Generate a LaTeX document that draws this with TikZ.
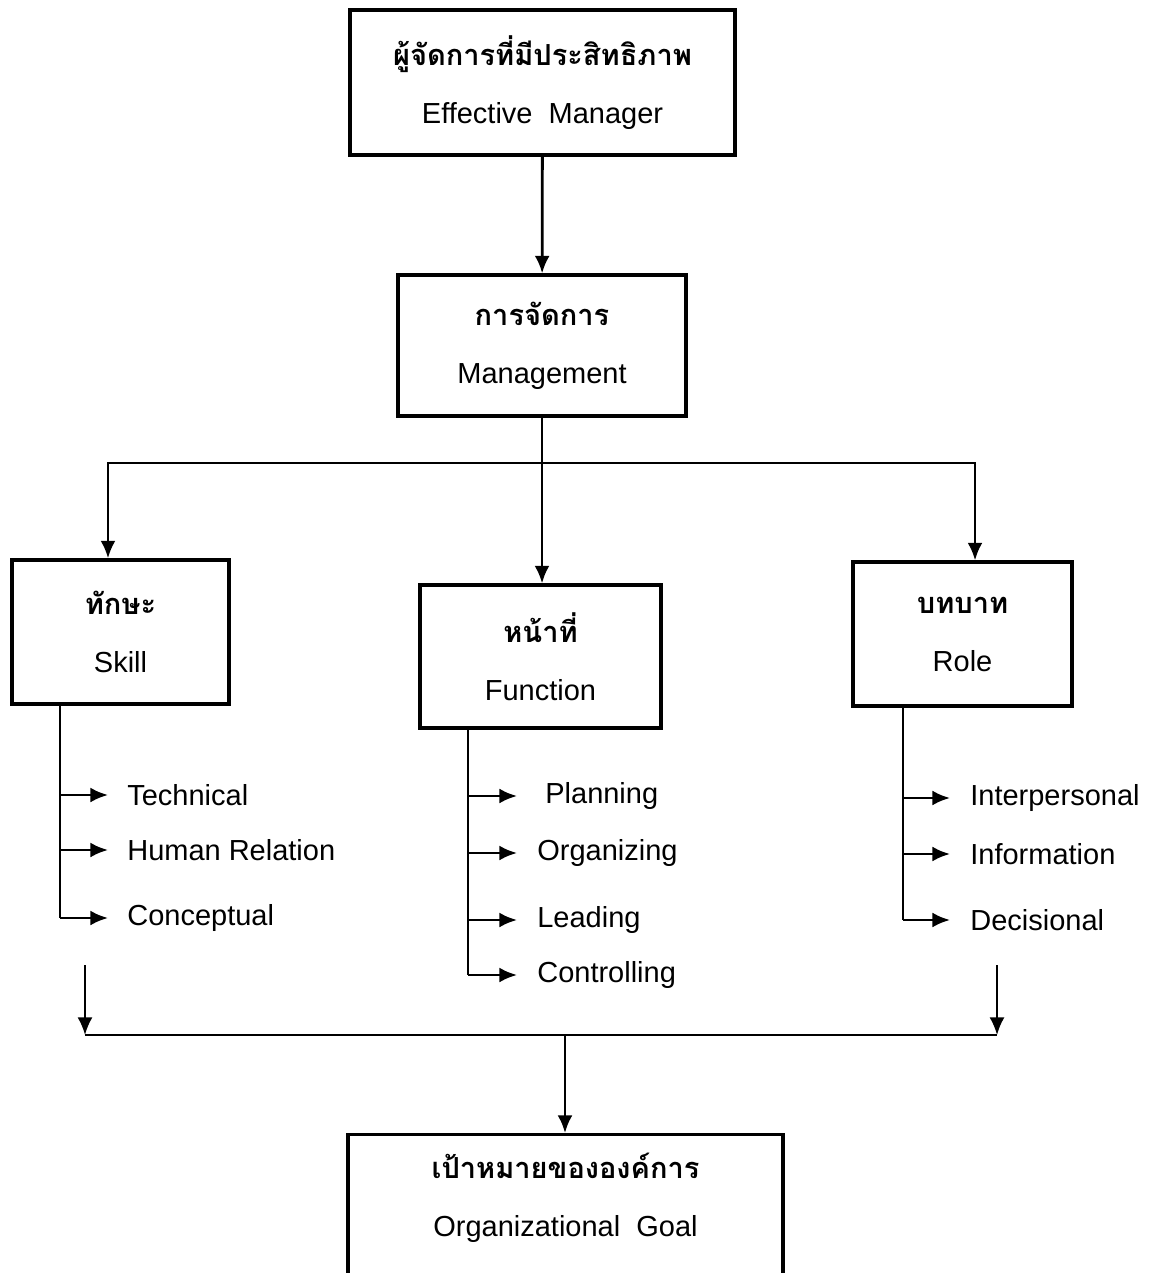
\documentclass[tikz,border=0pt]{standalone}
\usepackage{fontspec}
\setmainfont{Liberation Sans}
\newfontfamily\thaifont[Script=Thai]{Loma}
\usetikzlibrary{arrows.meta}

\tikzset{
  box/.style={draw, line width=1.8pt, align=center, inner sep=0pt,
    font=\fontsize{16.5}{33}\selectfont},
  item/.style={anchor=west, inner sep=0pt, font=\fontsize{16.5}{20}\selectfont},
  link/.style={line width=1.6pt},
  arr/.style={line width=1.6pt, -{Latex[length=10pt,width=8.5pt]}}
}
\newcommand{\thtxt}[1]{{\thaifont\bfseries #1}}

\begin{document}
\begin{tikzpicture}[x=0.02cm, y=-0.02cm]
\useasboundingbox (0,0) rectangle (1152,1273);

\node[box, minimum width=7.7cm, minimum height=2.9cm] (mgr) at (542.5,82.5)
  {\thtxt{ผู้จัดการที่มีประสิทธิภาพ}\\ Effective~ Manager};
\node[box, minimum width=5.76cm, minimum height=2.82cm] (mgmt) at (542,345.5)
  {\thtxt{การจัดการ}\\ Management};
\node[box, minimum width=4.34cm, minimum height=2.88cm] (skill) at (120.5,632)
  {\thtxt{ทักษะ}\\ Skill};
\node[box, minimum width=4.82cm, minimum height=2.86cm] (func) at (540.5,656.5)
  {\thtxt{หน้าที่}\\ Function};
\node[box, minimum width=4.38cm, minimum height=2.88cm] (role) at (962.5,634)
  {\thtxt{บทบาท}\\ Role};
\node[box, anchor=north, minimum width=8.7cm, inner ysep=0.36cm] (goal) at (565.5,1133)
  {\thtxt{เป้าหมายขององค์การ}\\ Organizational~ Goal\rule[-60pt]{0pt}{0pt}};

\draw[arr] (mgr) -- (mgmt);
\coordinate (hub) at (542,463);
\draw[link] (mgmt.south) -- (hub);
\draw[arr] (hub) -- (hub |- func.north);
\draw[arr] (hub) -| ([xshift=-0.25cm]skill.north);
\draw[arr] (hub) -| ([xshift=0.25cm]role.north);

% skill
\node[item] (tech) at (127,795) {Technical};
\node[item] (human) at (127,850) {Human Relation};
\node[item] (concept) at (127,918) {Conceptual};
\coordinate (st) at ([xshift=-1.21cm]skill.south);
\draw[link] (st) -- (st |- concept);
\foreach \n in {tech,human,concept}
  \draw[arr, shorten >=0.38cm] (st |- \n) -- (\n.west);

% function
\node[item] (plan) at (545,796) {Planning};
\node[item] (org) at (537,853) {Organizing};
\node[item] (lead) at (537,920) {Leading};
\node[item] (ctrl) at (537,975) {Controlling};
\coordinate (ft) at ([xshift=-1.45cm]func.south);
\draw[link] (ft) -- (ft |- ctrl);
\draw[arr, shorten >=0.56cm] (ft |- plan) -- (plan.west);
\foreach \n in {org,lead,ctrl}
  \draw[arr, shorten >=0.4cm] (ft |- \n) -- (\n.west);

% role
\node[item] (inter) at (970,798) {Interpersonal};
\node[item] (info) at (970,854) {Information};
\node[item] (deci) at (970,920) {Decisional};
\coordinate (rt) at ([xshift=-1.19cm]role.south);
\draw[link] (rt) -- (rt |- deci);
\foreach \n in {inter,info,deci}
  \draw[arr, shorten >=0.4cm] (rt |- \n) -- (\n.west);

% to goal
\coordinate (lin) at (85,965);
\coordinate (rin) at (997,965);
\coordinate (merge) at (565,1035);
\draw[arr, line width=1.2pt] (lin) -- (lin |- merge);
\draw[arr, line width=1.2pt] (rin) -- (rin |- merge);
\draw[link] (lin |- merge) -- (rin |- merge);
\draw[arr] (merge) -- (goal.north -| merge);
\end{tikzpicture}
\end{document}
